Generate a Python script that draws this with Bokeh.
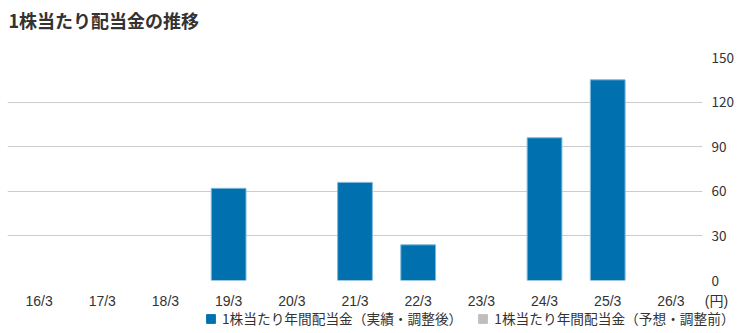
from bokeh.plotting import figure
from bokeh.layouts import column
from bokeh.models import (ColumnDataSource, FactorRange, Legend, LegendItem, Label,
                          FixedTicker, Range1d)
from bokeh.embed import file_html
from bokeh.resources import INLINE

nan = float("nan")
categories = ["16/3", "17/3", "18/3", "19/3", "20/3", "21/3", "22/3", "23/3", "24/3", "25/3", "26/3"]
actual = [nan, nan, nan, 62, nan, 66, 24, nan, 96, 135, nan]
forecast = [nan] * 11
y_ticks = [0, 30, 60, 90, 120, 150]
title_text = "1株当たり配当金の推移"
unit_text = "(円)"
legend_labels = ["1株当たり年間配当金（実績・調整後）", "1株当たり年間配当金（予想・調整前）"]

FONT = "Noto Sans CJK JP"
XFONT = "Liberation Sans, Noto Sans CJK JP"
TXT = "#333333"
BLUE = "#0071AE"
GRAY = "#BFBFBF"
W = 739
PLOT_L, PLOT_R = 7, 702
STEP = (PLOT_R - PLOT_L) / len(categories)


def bare(fig):
    fig.outline_line_color = None
    fig.background_fill_color = "white"
    fig.border_fill_color = "white"
    fig.xgrid.grid_line_color = None
    fig.ygrid.grid_line_color = None
    return fig


# ---- title strip ----
ft = bare(figure(width=W, height=40, x_range=Range1d(0, W), y_range=Range1d(0, 40),
                 output_backend="svg", toolbar_location=None, frame_align=False,
                 min_border_left=0, min_border_right=0, min_border_top=0, min_border_bottom=0))
ft.xaxis.visible = False
ft.yaxis.visible = False
ft.add_layout(Label(x=8, y=21, text=title_text, text_font=FONT, text_font_size="18px",
                    text_font_style="bold", text_color=TXT, text_baseline="middle"))

# ---- main chart ----
src = ColumnDataSource(dict(cat=categories, actual=actual, forecast=forecast))
p = figure(width=W, height=249, x_range=FactorRange(*categories, range_padding=0),
           y_range=(0, 150), y_axis_location="right", output_backend="svg",
           toolbar_location=None, frame_align=False,
           min_border_left=PLOT_L, min_border_right=W - PLOT_R,
           min_border_top=17, min_border_bottom=9)
p.outline_line_color = None
p.background_fill_color = "white"
p.border_fill_color = "white"

p.vbar(x="cat", top="actual", width=0.55, source=src,
       fill_color=BLUE, line_color="#7FB8DC", line_width=1)
p.vbar(x="cat", top="forecast", width=0.55, source=src,
       fill_color=GRAY, line_color=GRAY, line_width=0)

p.xgrid.grid_line_color = None
p.ygrid.grid_line_color = "#CCCCCC"
p.ygrid.grid_line_width = 1
p.xaxis.visible = False

p.yaxis.ticker = FixedTicker(ticks=y_ticks)
p.yaxis.axis_line_color = None
p.yaxis.major_tick_line_color = None
p.yaxis.minor_tick_line_color = None
p.yaxis.major_label_text_font = FONT
p.yaxis.major_label_text_font_size = "13.5px"
p.yaxis.major_label_text_color = TXT
p.yaxis.major_label_standoff = 3

# ---- bottom strip: category labels, unit, legend ----
tick_pos = [i for i in range(len(categories))]
unit_pos = len(categories) - 0.28
overrides = {i: c for i, c in zip(tick_pos, categories)}
overrides[unit_pos] = unit_text
x0 = -0.5 - PLOT_L / STEP
fb = bare(figure(width=W, height=44, x_range=Range1d(x0, x0 + W / STEP), y_range=Range1d(0, 1),
                 output_backend="svg", toolbar_location=None, x_axis_location="above",
                 frame_align=False,
                 min_border_left=0, min_border_right=0, min_border_top=0, min_border_bottom=0))
fb.yaxis.visible = False
ax = fb.xaxis[0]
ax.ticker = FixedTicker(ticks=tick_pos + [unit_pos])
ax.major_label_overrides = overrides
ax.axis_line_color = None
ax.major_tick_line_color = None
ax.minor_tick_line_color = None
ax.major_tick_out = 0
ax.major_tick_in = 0
ax.major_label_standoff = 0
ax.major_label_text_font = XFONT
ax.major_label_text_font_size = "14px"
ax.major_label_text_color = TXT

dummy = ColumnDataSource(dict(x=[nan], top=[nan]))
ra = fb.vbar(x="x", top="top", width=0.5, source=dummy, fill_color=BLUE, line_color=BLUE)
rf = fb.vbar(x="x", top="top", width=0.5, source=dummy, fill_color=GRAY, line_color=GRAY)
legend = Legend(items=[LegendItem(label=legend_labels[0], renderers=[ra]),
                       LegendItem(label=legend_labels[1], renderers=[rf])],
                orientation="horizontal", location=(205, 5), border_line_color=None,
                background_fill_alpha=0, label_text_font=FONT, label_text_font_size="13.7px",
                label_text_color=TXT, glyph_width=11, glyph_height=11, spacing=15,
                label_standoff=6, padding=2, margin=0, label_height=14)
fb.add_layout(legend, "center")

layout = column(ft, p, fb, spacing=0)
open("out.html", "w").write(file_html(layout, INLINE))
